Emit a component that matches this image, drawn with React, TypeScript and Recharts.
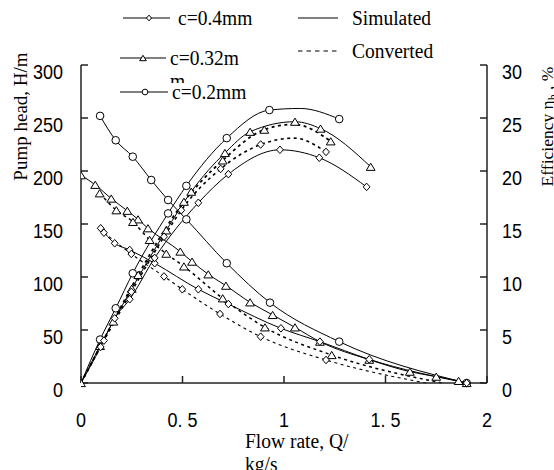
import React from 'react';
import { ComposedChart, Line, XAxis, YAxis } from 'recharts';

// [flow rate Q (kg/s), value, 0 = no marker]
type Pt = [number, number, number?];

const xTicks = [0, 0.5, 1, 1.5, 2];
const headTicks = [0, 50, 100, 150, 200, 250, 300];
const effTicks = [0, 5, 10, 15, 20, 25, 30];

// pump head, H/m
const headC02: Pt[] = [
  [0.094, 252], [0.171, 229], [0.255, 213.5], [0.346, 191.5], [0.429, 172.6],
  [0.519, 154.4], [0.718, 113], [0.931, 75.8], [1.272, 39], [1.9, 0],
];
const headC032Sim: Pt[] = [
  [0, 196], [0.07, 187], [0.149, 174], [0.228, 162.5], [0.281, 154.4], [0.33, 146],
  [0.489, 124], [0.547, 114.5], [0.627, 102.5], [0.714, 91.8], [0.833, 76.1],
  [0.944, 64.2], [1.054, 52.5], [1.177, 39], [1.42, 22], [1.62, 10.7], [1.75, 6],
  [1.86, 2], [1.9, 0],
];
const headC032Conv: Pt[] = [
  [0.092, 179], [0.174, 163], [0.256, 152], [0.338, 135], [0.42, 122], [0.507, 110],
  [0.698, 79.9], [0.906, 52.5], [1.235, 26.4], [1.78, 0, 0],
];
const headC04Sim: Pt[] = [
  [0.097, 146], [0.166, 131.8], [0.24, 125.5], [0.363, 113], [0.578, 88.4],
  [0.726, 74.5], [0.985, 51.6], [1.177, 39], [1.42, 22.3], [1.9, 0],
];
const headC04Conv: Pt[] = [
  [0.113, 141.8], [0.248, 121.7], [0.409, 100.5], [0.499, 88.4], [0.685, 65.1],
  [0.885, 43.7], [1.207, 21.7], [1.7, 0, 0],
];

// efficiency, %
const effC02: Pt[] = [
  [0, 0, 0], [0.094, 4.1], [0.171, 7.05], [0.255, 10.35], [0.429, 16], [0.519, 18.6],
  [0.718, 23.1], [0.928, 25.75], [1.08, 25.9, 0], [1.272, 24.9],
];
const effC032Sim: Pt[] = [
  [0, 0], [0.094, 3.5], [0.25, 8.9], [0.42, 14.4], [0.543, 18.05], [0.709, 21.7],
  [0.833, 23.7], [1.054, 24.65], [1.18, 24], [1.427, 20.4],
];
const effC032Conv: Pt[] = [
  [0, 0, 0], [0.159, 5.8], [0.282, 10.2], [0.507, 17.1], [0.698, 21], [0.903, 23.9],
  [1.05, 24.4, 0], [1.23, 22.8],
];
const effC04Sim: Pt[] = [
  [0, 0, 0], [0.097, 3.4], [0.166, 6.1], [0.24, 7.9], [0.363, 11.8], [0.578, 17],
  [0.726, 19.7], [0.98, 22], [1.174, 21.25], [1.407, 18.5],
];
const effC04Conv: Pt[] = [
  [0, 0, 0], [0.113, 4], [0.248, 8.6], [0.409, 13.8], [0.494, 16.3], [0.688, 20.2],
  [0.885, 22.5], [1.05, 23.1, 0], [1.207, 21.8],
];

const SERIF = '"Liberation Serif", "Times New Roman", serif';
const SANS = '"Liberation Sans", Arial, sans-serif';
// the source figure is a little taller than wide
const STRETCH = 1.12;

const toRows = (pts: Pt[]) => pts.map(([q, v, m]) => ({ q, v, hide: m === 0 }));

type Kind = 'circle' | 'triangle' | 'diamond';

function Marker({ cx, cy, kind, small }: { cx: number; cy: number; kind: Kind; small?: boolean }) {
  const s = small ? 0.75 : 1;
  const common = { fill: '#fff', stroke: '#000', strokeWidth: 1 };
  if (kind === 'circle') return <circle cx={cx} cy={cy} r={3.8 * s} {...common} />;
  if (kind === 'diamond') {
    const w = 3.4 * s, h = 3.8 * s;
    return <polygon points={`${cx},${cy - h} ${cx + w},${cy} ${cx},${cy + h} ${cx - w},${cy}`} {...common} />;
  }
  const w = 4.4 * s, h = 3.6 * s;
  return <polygon points={`${cx},${cy - h} ${cx + w},${cy + h} ${cx - w},${cy + h}`} {...common} />;
}

const dotFor = (kind: Kind, id: string) => (props: any) => {
  const { cx, cy, payload, index } = props;
  const key = `${id}-${index}`;
  if (cx == null || cy == null || payload?.hide) return <g key={key} />;
  return (
    <g key={key}>
      <Marker cx={cx} cy={cy} kind={kind} />
    </g>
  );
};

// text stretched vertically like the source
function Txt({ x, y, children, ...rest }: any) {
  return (
    <text transform={`translate(${x},${y}) scale(1,${STRETCH})`} {...rest}>
      {children}
    </text>
  );
}

const AxisTick = (anchor: 'start' | 'middle' | 'end', dy: number, fmt?: (v: number) => string) =>
  (props: any) => {
    const { x, y, payload } = props;
    return (
      <Txt x={x} y={y + dy} textAnchor={anchor} fontSize={18} fontFamily={SANS} fill="#000">
        {fmt ? fmt(payload.value) : payload.value}
      </Txt>
    );
  };

const fmtX = (v: number) => String(v).replace('.', '. ');

type SeriesDef = { id: string; axis: 'h' | 'e'; pts: Pt[]; kind: Kind; dashed?: boolean; width?: number };

const series: SeriesDef[] = [
  { id: 'h02', axis: 'h', pts: headC02, kind: 'circle' },
  { id: 'h032s', axis: 'h', pts: headC032Sim, kind: 'triangle' },
  { id: 'h032c', axis: 'h', pts: headC032Conv, kind: 'triangle', dashed: true, width: 1.5 },
  { id: 'h04s', axis: 'h', pts: headC04Sim, kind: 'diamond' },
  { id: 'h04c', axis: 'h', pts: headC04Conv, kind: 'diamond', dashed: true, width: 1.1 },
  { id: 'e02', axis: 'e', pts: effC02, kind: 'circle' },
  { id: 'e032s', axis: 'e', pts: effC032Sim, kind: 'triangle' },
  { id: 'e032c', axis: 'e', pts: effC032Conv, kind: 'triangle', dashed: true, width: 1.8 },
  { id: 'e04s', axis: 'e', pts: effC04Sim, kind: 'diamond' },
  { id: 'e04c', axis: 'e', pts: effC04Conv, kind: 'diamond', dashed: true, width: 1.6 },
];

function Overlay() {
  const txt = { fontFamily: SERIF, fontSize: 19.5, fill: '#000' };
  return (
    <svg width={554} height={470} style={{ position: 'absolute', left: 0, top: 0, pointerEvents: 'none' }}>
      {/* legend */}
      <line x1={123} y1={18} x2={170} y2={18} stroke="#000" strokeWidth={1} />
      <Marker cx={149} cy={18} kind="diamond" small />
      <Txt x={178} y={25} {...txt}>c=0.4mm</Txt>

      <line x1={120} y1={58} x2={166} y2={58} stroke="#000" strokeWidth={1} />
      <Marker cx={143} cy={58} kind="triangle" small />
      <Txt x={170} y={65} {...txt}>c=0.32m</Txt>
      <Txt x={170} y={88} {...txt}>m</Txt>
      <rect x={160} y={83} width={100} height={20} fill="#fff" />

      <line x1={120} y1={92} x2={168} y2={92} stroke="#000" strokeWidth={1} />
      <Marker cx={145} cy={92} kind="circle" small />
      <Txt x={172} y={99} {...txt}>c=0.2mm</Txt>

      <line x1={298} y1={18} x2={338} y2={18} stroke="#000" strokeWidth={1.2} />
      <Txt x={352} y={25} {...txt}>Simulated</Txt>
      <line x1={298} y1={51} x2={338} y2={51} stroke="#000" strokeWidth={1.2} strokeDasharray="4.5 4" />
      <Txt x={352} y={58} {...txt}>Converted</Txt>

      {/* axis titles */}
      <text transform="translate(27,116.5) rotate(-90)" textAnchor="middle" {...txt} fontSize={19}>
        Pump head, H/m
      </text>
      <text transform="translate(553,126.5) rotate(-90)" textAnchor="middle" {...txt} fontSize={17.5}>
        Efficiency η<tspan fontSize={12} dy={4}>h</tspan>
        <tspan dy={-4}> , %</tspan>
      </text>
      <Txt x={245} y={448} {...txt}>Flow rate, Q/</Txt>
      <Txt x={245} y={471} {...txt}>kg/s</Txt>
    </svg>
  );
}

export default function App() {
  return (
    <div style={{ position: 'absolute', left: 0, top: 0, width: 554, height: 470, background: '#fff' }}>
      <ComposedChart width={554} height={470} margin={{ top: 65, right: 17, bottom: 47, left: 21 }}>
        <XAxis
          dataKey="q"
          type="number"
          domain={[0, 2]}
          ticks={xTicks}
          allowDataOverflow
          height={40}
          stroke="#222"
          strokeWidth={1.5}
          tickSize={-7}
          tickMargin={30}
          tick={AxisTick('middle', 20.5, fmtX)}
        />
        <YAxis
          yAxisId="h"
          orientation="left"
          type="number"
          domain={[0, 300]}
          ticks={headTicks}
          width={60}
          stroke="#222"
          strokeWidth={1.5}
          tickSize={-7}
          tickMargin={25}
          tick={AxisTick('end', 14)}
        />
        <YAxis
          yAxisId="e"
          orientation="right"
          type="number"
          domain={[0, 30]}
          ticks={effTicks}
          width={50}
          stroke="#222"
          strokeWidth={1.5}
          tickSize={-7}
          tickMargin={22}
          tick={AxisTick('start', 14)}
        />
        {series.map((s) => (
          <Line
            key={s.id}
            yAxisId={s.axis}
            data={toRows(s.pts)}
            dataKey="v"
            type="monotone"
            stroke="#000"
            strokeWidth={s.width ?? 1}
            strokeDasharray={s.dashed ? '3 3.5' : undefined}
            dot={dotFor(s.kind, s.id)}
            activeDot={false}
            isAnimationActive={false}
          />
        ))}
      </ComposedChart>
      <Overlay />
    </div>
  );
}
